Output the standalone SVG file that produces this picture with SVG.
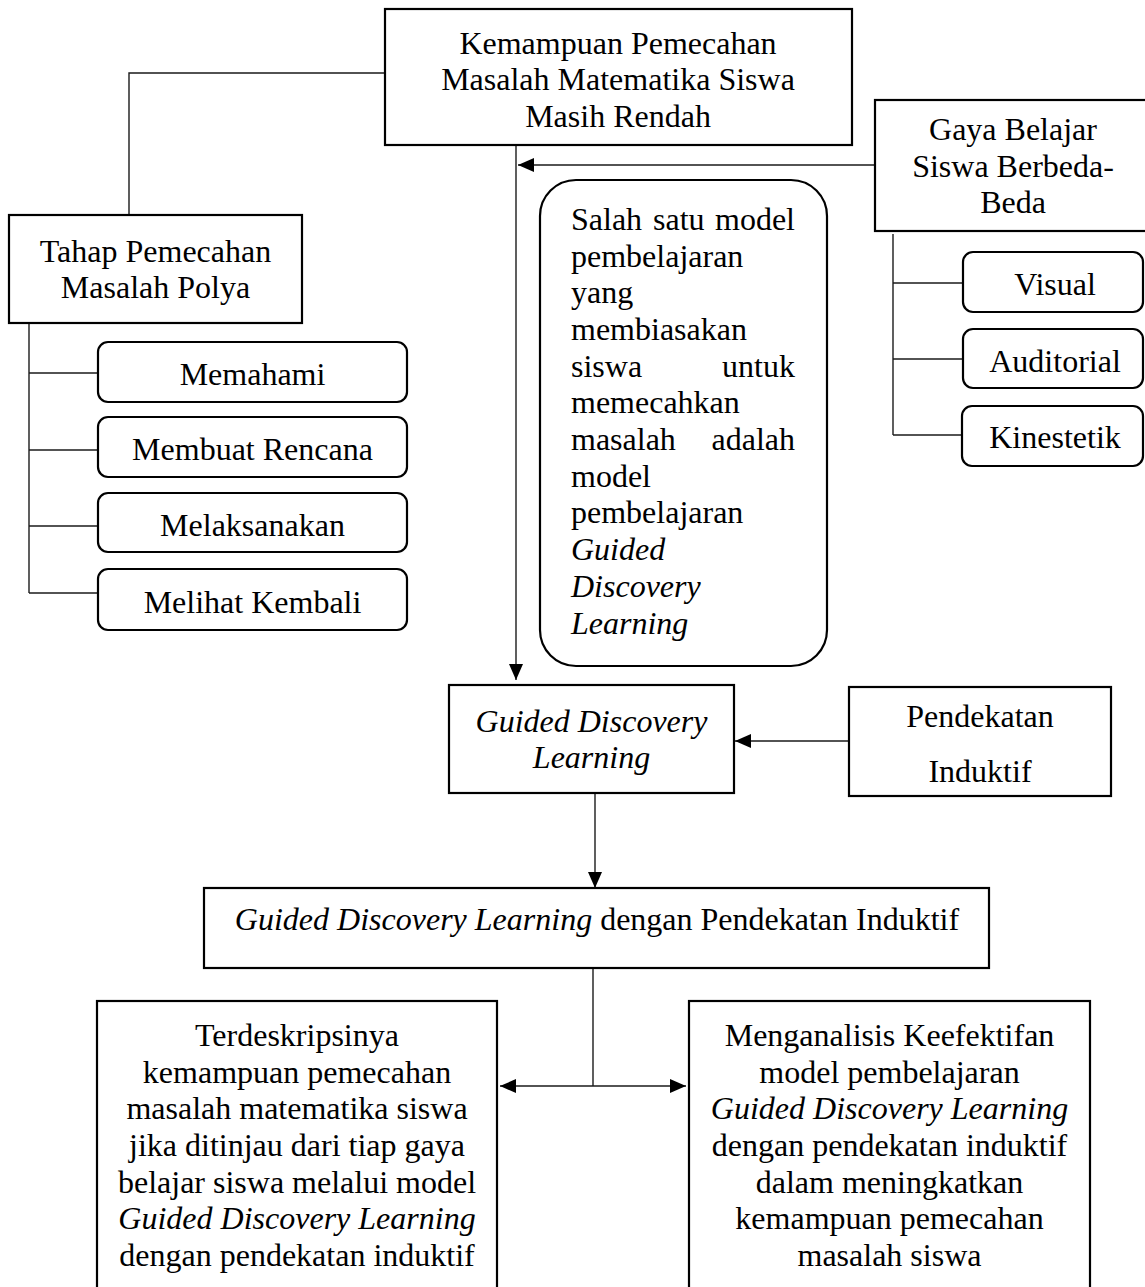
<svg xmlns="http://www.w3.org/2000/svg" width="1145" height="1287" viewBox="0 0 1145 1287">
<style>
.box{fill:#fff;stroke:#000;stroke-width:2.2}
.c{fill:none;stroke:#1a1a1a;stroke-width:1.4}
text{font-family:"Liberation Serif","Times New Roman",serif;font-size:32px;fill:#000}
.m{text-anchor:middle}
.e{text-anchor:end}
.i{font-style:italic}
</style>
<defs>
<marker id="ah" markerUnits="userSpaceOnUse" markerWidth="16" markerHeight="14" refX="16" refY="7" orient="auto-start-reverse">
<path d="M0,0 L16,7 L0,14 z" fill="#000"/>
</marker>
</defs>
<rect width="1145" height="1287" fill="#fff"/>

<g id="connectors">
<polyline class="c" points="385,73 129,73 129,215"/>
<line class="c" x1="29" y1="323" x2="29" y2="593"/>
<line class="c" x1="29" y1="373" x2="98" y2="373"/>
<line class="c" x1="29" y1="450" x2="98" y2="450"/>
<line class="c" x1="29" y1="526" x2="98" y2="526"/>
<line class="c" x1="29" y1="593" x2="98" y2="593"/>
<line class="c" x1="516" y1="145" x2="516" y2="680" marker-end="url(#ah)"/>
<line class="c" x1="875" y1="165" x2="518" y2="165" marker-end="url(#ah)"/>
<line class="c" x1="893" y1="234" x2="893" y2="435"/>
<line class="c" x1="893" y1="283" x2="963" y2="283"/>
<line class="c" x1="893" y1="359" x2="963" y2="359"/>
<line class="c" x1="893" y1="435" x2="963" y2="435"/>
<line class="c" x1="849" y1="741" x2="735" y2="741" marker-end="url(#ah)"/>
<line class="c" x1="595" y1="793" x2="595" y2="888" marker-end="url(#ah)"/>
<line class="c" x1="593" y1="968" x2="593" y2="1086"/>
<line class="c" x1="500" y1="1086" x2="686" y2="1086" marker-start="url(#ah)" marker-end="url(#ah)"/>
</g>

<g id="n-kemampuan">
<rect class="box" x="385" y="9" width="467" height="136"/>
<text class="m" x="618" y="54">Kemampuan Pemecahan</text>
<text class="m" x="618" y="90">Masalah Matematika Siswa</text>
<text class="m" x="618" y="127">Masih Rendah</text>
</g>

<g id="n-tahap">
<rect class="box" x="9" y="215" width="293" height="108"/>
<text class="m" x="155.5" y="262">Tahap Pemecahan</text>
<text class="m" x="155.5" y="298">Masalah Polya</text>
</g>

<g id="n-memahami">
<rect class="box" x="98" y="342" width="309" height="60" rx="10"/>
<text class="m" x="252.5" y="385">Memahami</text>
</g>
<g id="n-membuat">
<rect class="box" x="98" y="417" width="309" height="60" rx="10"/>
<text class="m" x="252.5" y="460">Membuat Rencana</text>
</g>
<g id="n-melaksanakan">
<rect class="box" x="98" y="493" width="309" height="59" rx="10"/>
<text class="m" x="252.5" y="536">Melaksanakan</text>
</g>
<g id="n-melihat">
<rect class="box" x="98" y="569" width="309" height="61" rx="10"/>
<text class="m" x="252.5" y="613">Melihat Kembali</text>
</g>

<g id="n-salah">
<rect class="box" x="540" y="180" width="287" height="486" rx="36"/>
<text x="571" y="230">Salah</text>
<text x="653" y="230">satu</text>
<text class="e" x="795" y="230">model</text>
<text x="571" y="267">pembelajaran</text>
<text x="571" y="303">yang</text>
<text x="571" y="340">membiasakan</text>
<text x="571" y="377">siswa</text>
<text class="e" x="795" y="377">untuk</text>
<text x="571" y="413">memecahkan</text>
<text x="571" y="450">masalah</text>
<text class="e" x="795" y="450">adalah</text>
<text x="571" y="487">model</text>
<text x="571" y="523">pembelajaran</text>
<text class="i" x="571" y="560">Guided</text>
<text class="i" x="571" y="597">Discovery</text>
<text class="i" x="571" y="634">Learning</text>
</g>

<g id="n-gaya">
<rect class="box" x="875" y="100" width="276" height="131"/>
<text class="m" x="1013" y="140">Gaya Belajar</text>
<text class="m" x="1013" y="177">Siswa Berbeda-</text>
<text class="m" x="1013" y="213">Beda</text>
</g>

<g id="n-visual">
<rect class="box" x="963" y="252" width="180" height="60" rx="10"/>
<text class="m" x="1055" y="295">Visual</text>
</g>
<g id="n-auditorial">
<rect class="box" x="963" y="329" width="180" height="59" rx="10"/>
<text class="m" x="1055" y="372">Auditorial</text>
</g>
<g id="n-kinestetik">
<rect class="box" x="962" y="406" width="181" height="60" rx="10"/>
<text class="m" x="1055" y="448">Kinestetik</text>
</g>

<g id="n-gdl">
<rect class="box" x="449" y="685" width="285" height="108"/>
<text class="m i" x="591.5" y="732">Guided Discovery</text>
<text class="m i" x="591.5" y="768">Learning</text>
</g>

<g id="n-pendekatan">
<rect class="box" x="849" y="687" width="262" height="109"/>
<text class="m" x="980" y="727">Pendekatan</text>
<text class="m" x="980" y="782">Induktif</text>
</g>

<g id="n-gdl-induktif">
<rect class="box" x="204" y="888" width="785" height="80"/>
<text class="m" x="597" y="930"><tspan class="i">Guided Discovery Learning</tspan> dengan Pendekatan Induktif</text>
</g>

<g id="n-terdeskripsi">
<rect class="box" x="97" y="1001" width="400" height="300"/>
<text class="m" x="297" y="1046">Terdeskripsinya</text>
<text class="m" x="297" y="1083">kemampuan pemecahan</text>
<text class="m" x="297" y="1119">masalah matematika siswa</text>
<text class="m" x="297" y="1156">jika ditinjau dari tiap gaya</text>
<text class="m" x="297" y="1193">belajar siswa melalui model</text>
<text class="m i" x="297" y="1229">Guided Discovery Learning</text>
<text class="m" x="297" y="1266">dengan pendekatan induktif</text>
</g>

<g id="n-menganalisis">
<rect class="box" x="689" y="1001" width="401" height="300"/>
<text class="m" x="889.5" y="1046">Menganalisis Keefektifan</text>
<text class="m" x="889.5" y="1083">model pembelajaran</text>
<text class="m i" x="889.5" y="1119">Guided Discovery Learning</text>
<text class="m" x="889.5" y="1156">dengan pendekatan induktif</text>
<text class="m" x="889.5" y="1193">dalam meningkatkan</text>
<text class="m" x="889.5" y="1229">kemampuan pemecahan</text>
<text class="m" x="889.5" y="1266">masalah siswa</text>
</g>
</svg>
